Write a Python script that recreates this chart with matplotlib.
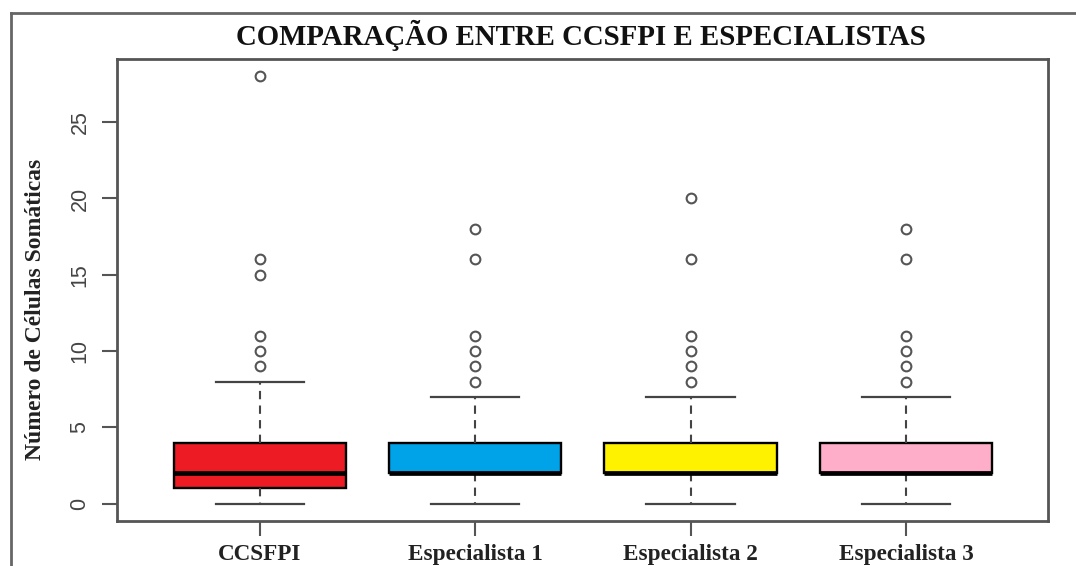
import matplotlib
matplotlib.use("Agg")
import matplotlib.pyplot as plt
from matplotlib.lines import Line2D

# Group labels and box colours
categories = ["CCSFPI", "Especialista 1", "Especialista 2", "Especialista 3"]
colors = ["#ED1C24", "#00A2E8", "#FFF200", "#FFAEC9"]

# Five-number summaries (lower whisker, Q1, median, Q3, upper whisker)
whisker_low = [0, 0, 0, 0]
q1 = [1, 2, 2, 2]
median = [2, 2, 2, 2]
q3 = [4, 4, 4, 4]
whisker_high = [8, 7, 7, 7]

# Outlying counts per group
outliers = [
    [9, 10, 11, 15, 16, 28],
    [8, 9, 10, 11, 16, 18],
    [8, 9, 10, 11, 16, 20],
    [8, 9, 10, 11, 16, 18],
]

yticks = [0, 5, 10, 15, 20, 25]

W, H = 1076, 566
fig = plt.figure(figsize=(W / 100, H / 100), dpi=100)
ax = fig.add_axes([117 / W, 1 - 520.7 / H, (1048 - 117) / W, (520.7 - 59.3) / H])

stats = []
for i, name in enumerate(categories):
    stats.append(dict(label=name, whislo=whisker_low[i], q1=q1[i], med=median[i],
                      q3=q3[i], whishi=whisker_high[i], fliers=outliers[i]))

positions = list(range(1, len(categories) + 1))
bp = ax.bxp(stats, positions=positions, widths=0.80, patch_artist=True,
            showfliers=True,
            boxprops=dict(edgecolor="black", linewidth=1.7),
            medianprops=dict(color="black", linewidth=3.4, solid_capstyle="butt"),
            whiskerprops=dict(color="#444444", linewidth=1.5, linestyle=(0, (4, 3))),
            capprops=dict(color="#444444", linewidth=1.6),
            capwidths=0.41,
            flierprops=dict(marker="o", markerfacecolor="none", markeredgecolor="#555555",
                            markersize=7, markeredgewidth=1.5, linestyle="none"))
for patch, c in zip(bp["boxes"], colors):
    patch.set_facecolor(c)

ax.set_xlim(0.336, 4.66)
ax.set_ylim(-1.12, 29.12)
ax.set_yticks(yticks)
ax.set_yticklabels([str(v) for v in yticks], rotation=90, va="center",
                   fontfamily="Liberation Sans", fontsize=15.5, color="#444444")
ax.set_xticks(positions)
ax.set_xticklabels(categories, fontfamily="Liberation Serif", fontweight="bold",
                   fontsize=16.7, color="#222222")
ax.tick_params(axis="both", length=11, width=1.5, color="#555555")
ax.tick_params(axis="y", pad=8)
ax.tick_params(axis="x", pad=6)
for s in ax.spines.values():
    s.set_color("#555555")
    s.set_linewidth(2)

fig.text(581 / W, 1 - 35 / H, "COMPARAÇÃO ENTRE CCSFPI E ESPECIALISTAS",
         ha="center", va="center", fontfamily="Liberation Serif",
         fontweight="bold", fontsize=20.8, color="#111111")
fig.text(36 / W, 1 - 309.5 / H, "Número de Células Somáticas", rotation=90,
         ha="center", va="center", fontfamily="Liberation Serif",
         fontweight="bold", fontsize=17, color="#222222")

# Outer frame (left and top edges)
fx, fy = 10.5 / W, 1 - 12.7 / H
fig.add_artist(Line2D([fx, fx], [0, fy], transform=fig.transFigure,
                      color="#666666", linewidth=2))
fig.add_artist(Line2D([fx, 1], [fy, fy], transform=fig.transFigure,
                      color="#666666", linewidth=2))

fig.savefig("out.png", dpi=100)
